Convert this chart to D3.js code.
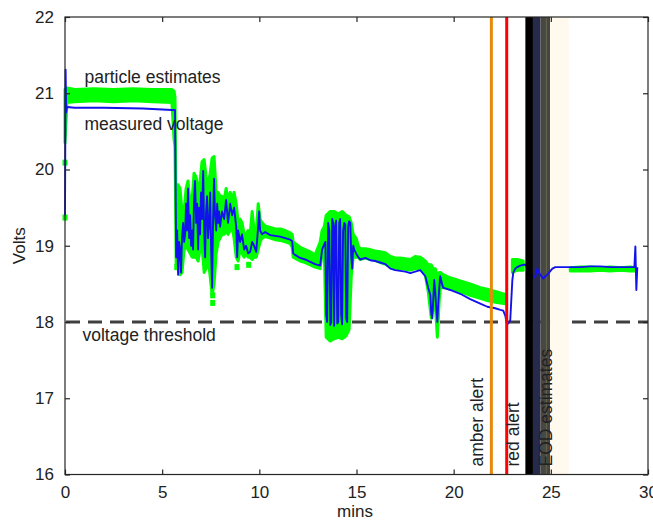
<!DOCTYPE html>
<html>
<head>
<meta charset="utf-8">
<script src="https://cdn.jsdelivr.net/npm/d3@7"></script>
<style>
  body { margin: 0; background: white; }
  text { font-family: "Liberation Sans", Arial, sans-serif; fill: #222; }
</style>
</head>
<body>
<div id="container"></div>
<script>
let w = 653;
let h = 521;

// axis ticks
let xTicks = [0, 5, 10, 15, 20, 25, 30];
let yTicks = [16, 17, 18, 19, 20, 21, 22];

// measured voltage [mins, volts]
let measured = [
  [0.00, 19.40], [0.03, 21.31], [0.06, 20.75], [0.10, 20.82], [0.50, 20.81], [2.00, 20.81],
  [4.00, 20.80], [5.51, 20.78], [5.66, 20.78], [5.72, 18.85], [5.77, 19.20], [5.82, 18.62],
  [5.87, 19.05], [5.92, 18.95], [5.97, 18.65], [6.02, 19.10], [6.08, 19.30], [6.13, 19.05],
  [6.18, 19.15], [6.23, 19.55], [6.28, 19.20], [6.33, 19.75], [6.39, 19.10], [6.44, 19.40],
  [6.49, 19.00], [6.54, 19.20], [6.59, 18.95], [6.64, 19.60], [6.69, 19.85], [6.75, 19.30],
  [6.80, 19.55], [6.85, 18.95], [6.90, 19.50], [6.95, 19.15], [7.00, 19.70], [7.05, 19.35],
  [7.11, 19.98], [7.16, 19.20], [7.21, 18.85], [7.26, 19.45], [7.31, 19.65], [7.36, 19.10],
  [7.42, 19.30], [7.47, 19.70], [7.52, 18.95], [7.57, 18.45], [7.62, 19.35], [7.67, 19.88],
  [7.72, 19.40], [7.78, 19.20], [7.83, 19.55], [7.88, 19.30], [7.93, 19.45], [7.98, 19.25],
  [8.08, 19.45], [8.19, 19.35], [8.29, 19.60], [8.39, 19.30], [8.50, 19.55], [8.60, 19.40],
  [8.70, 19.50], [8.81, 19.25], [8.86, 18.85], [8.91, 19.20], [9.01, 19.05], [9.11, 19.15],
  [9.22, 18.95], [9.32, 19.00], [9.42, 18.90], [9.53, 18.92], [9.63, 19.05], [9.73, 19.00],
  [9.84, 18.92], [9.94, 19.25], [9.99, 19.45], [10.04, 19.20], [10.14, 19.15], [10.30, 19.18],
  [10.56, 19.14], [10.81, 19.13], [11.07, 19.12], [11.33, 19.10], [11.59, 19.08], [11.69, 19.06],
  [11.74, 18.90], [11.84, 18.88], [12.10, 18.84], [12.36, 18.82], [12.62, 18.79], [12.87, 18.76],
  [13.13, 18.74], [13.23, 18.95], [13.34, 19.02], [13.40, 19.05], [13.44, 18.10], [13.49, 18.00],
  [13.54, 19.30], [13.60, 19.20], [13.65, 17.96], [13.70, 18.00], [13.75, 19.35], [13.80, 19.30],
  [13.85, 17.95], [13.90, 19.25], [13.95, 19.33], [14.01, 17.98], [14.06, 18.00], [14.11, 19.30],
  [14.16, 19.35], [14.21, 18.10], [14.26, 17.97], [14.31, 19.20], [14.37, 19.30], [14.42, 19.28],
  [14.47, 18.05], [14.52, 18.00], [14.57, 19.25], [14.62, 19.32], [14.68, 19.30], [14.73, 18.85],
  [14.78, 18.70], [14.83, 19.00], [14.88, 18.95], [14.98, 18.90], [15.09, 18.85], [15.19, 18.82],
  [15.45, 18.84], [15.71, 18.81], [15.96, 18.80], [16.22, 18.78], [16.48, 18.76], [16.74, 18.70],
  [16.99, 18.68], [17.25, 18.67], [17.51, 18.66], [17.77, 18.64], [18.02, 18.66], [18.28, 18.68],
  [18.54, 18.60], [18.69, 18.45], [18.80, 18.35], [18.85, 18.10], [18.90, 18.05], [18.95, 18.30],
  [19.00, 18.55], [19.05, 18.40], [19.10, 18.20], [19.16, 18.00], [19.21, 18.25], [19.26, 18.45],
  [19.31, 18.60], [19.40, 18.50], [19.46, 18.45], [19.57, 18.44], [19.82, 18.42], [20.34, 18.37],
  [20.85, 18.30], [21.37, 18.24], [21.73, 18.20], [22.14, 18.18], [22.40, 18.16], [22.55, 18.15],
  [22.66, 18.08], [22.71, 18.00], [22.81, 17.98], [22.91, 18.02], [23.02, 18.55], [23.07, 18.65],
  [23.17, 18.70], [23.27, 18.72], [23.43, 18.74], [23.58, 18.75], [23.69, 18.75], [24.10, 18.58],
  [24.20, 18.60], [24.30, 18.70], [24.45, 18.62], [24.61, 18.57], [24.72, 18.60], [24.82, 18.62],
  [25.08, 18.70], [25.23, 18.72], [25.49, 18.72], [26.00, 18.72], [26.52, 18.72], [27.03, 18.73],
  [27.55, 18.73], [28.06, 18.72], [28.58, 18.72], [29.09, 18.72], [29.30, 18.72], [29.35, 18.99],
  [29.40, 18.42], [29.45, 18.72]
];

// particle estimates spread [mins, low, high]; null breaks the band
let particles = [
  [0.00, 20.35, 21.05], [0.10, 20.88, 21.07], [0.50, 20.89, 21.05], [1.50, 20.90, 21.06],
  [2.50, 20.89, 21.05], [3.50, 20.90, 21.06], [4.50, 20.89, 21.05], [5.50, 20.88, 21.05],
  [5.61, 20.40, 21.03], [5.66, 20.30, 20.95], [5.72, 18.75, 19.40], [5.82, 18.70, 19.80],
  [5.92, 18.62, 19.75], [6.02, 18.65, 19.45], [6.13, 18.95, 19.45], [6.23, 19.00, 19.75],
  [6.33, 18.95, 19.85], [6.44, 18.90, 19.55], [6.54, 18.85, 19.60], [6.64, 18.85, 19.95],
  [6.75, 18.85, 19.90], [6.85, 18.80, 19.70], [6.95, 18.95, 19.85], [7.05, 19.00, 20.10],
  [7.16, 18.65, 20.13], [7.26, 18.70, 19.90], [7.36, 18.85, 19.80], [7.47, 18.60, 19.95],
  [7.57, 18.35, 20.15], [7.67, 18.50, 20.17], [7.78, 18.90, 19.70], [7.88, 19.05, 19.70],
  [7.98, 19.10, 19.65], [8.08, 19.15, 19.65], [8.19, 19.15, 19.60], [8.29, 19.20, 19.75],
  [8.39, 19.15, 19.60], [8.50, 19.20, 19.70], [8.60, 19.25, 19.60], [8.70, 19.10, 19.70],
  [8.81, 18.85, 19.55], [8.91, 18.80, 19.30], [9.01, 18.95, 19.35], [9.11, 18.90, 19.30],
  [9.22, 18.85, 19.15], [9.32, 18.90, 19.15], [9.42, 18.85, 19.20], [9.53, 18.85, 19.15],
  [9.63, 18.82, 19.45], [9.73, 18.85, 19.20], [9.84, 18.85, 19.15], [9.94, 18.95, 19.55],
  [10.04, 19.05, 19.35], [10.14, 19.10, 19.30], [10.30, 19.12, 19.26], [10.56, 19.10, 19.24],
  [10.81, 19.08, 19.22], [11.07, 19.07, 19.22], [11.33, 19.05, 19.20], [11.59, 19.03, 19.17],
  [11.69, 18.98, 19.15], [11.74, 18.85, 19.05], [12.10, 18.80, 18.98], [12.36, 18.78, 18.95],
  [12.62, 18.75, 18.92], [12.87, 18.72, 18.88], [13.13, 18.70, 19.05], [13.23, 18.90, 19.20],
  [13.34, 18.95, 19.25], [13.44, 17.80, 19.40], [13.65, 17.75, 19.45], [13.85, 17.78, 19.45],
  [14.06, 17.80, 19.42], [14.26, 17.78, 19.45], [14.47, 17.82, 19.40], [14.62, 17.90, 19.38],
  [14.73, 18.60, 19.30], [14.83, 18.85, 19.15], [14.98, 18.85, 19.10], [15.09, 18.85, 19.00],
  [15.19, 18.82, 18.96], [15.45, 18.84, 18.96], [15.71, 18.82, 18.95], [15.96, 18.81, 18.93],
  [16.22, 18.78, 18.92], [16.48, 18.76, 18.91], [16.74, 18.72, 18.86], [16.99, 18.70, 18.84],
  [17.25, 18.70, 18.84], [17.51, 18.69, 18.83], [17.77, 18.68, 18.82], [18.02, 18.70, 18.86],
  [18.28, 18.70, 18.85], [18.54, 18.62, 18.80], [18.69, 18.40, 18.75], [18.85, 18.05, 18.75],
  [18.95, 18.20, 18.70], [19.05, 18.25, 18.70], [19.16, 17.80, 18.60], [19.26, 18.30, 18.65],
  [19.31, 18.45, 18.65], [19.46, 18.45, 18.62], [19.82, 18.44, 18.58], [20.34, 18.40, 18.54],
  [20.85, 18.35, 18.50], [21.37, 18.31, 18.45], [21.73, 18.28, 18.43], [22.14, 18.26, 18.40],
  [22.40, 18.25, 18.38], [22.66, 18.24, 18.36], [22.91, null, null], [23.02, 18.65, 18.82],
  [23.27, 18.68, 18.82], [23.58, 18.68, 18.80], [23.69, null, null], [26.00, 18.67, 18.71],
  [26.52, 18.67, 18.72], [27.03, 18.67, 18.72], [27.55, 18.68, 18.71], [28.06, 18.67, 18.72],
  [28.58, 18.68, 18.71], [29.09, 18.67, 18.72], [29.35, 18.67, 18.71]
];

// stray particles
let strayParticles = [
  [0.00, 19.37], [0.00, 20.09], [5.75, 18.72], [7.60, 18.35], [7.60, 18.25], [8.85, 18.72], [9.45, 18.75]
];

let threshold = 18;
let amberAlert = 21.94;
let redAlert = 22.73;

// EOD estimate bands [from, to, colour]
let eodBands = [
  [24.08, 24.46, "#262a4c"],
  [24.46, 24.75, "#474744"],
  [24.75, 24.80, "#5c5c40"],
  [24.80, 24.96, "#454545"],
  [24.96, 25.92, "#fff9ee"]
];
let eodCore = [23.69, 24.08];

let labels = [
  { text: "particle estimates", t: 1.0, v: 21.13 },
  { text: "measured voltage", t: 1.0, v: 20.52 },
  { text: "voltage threshold", t: 0.9, v: 17.75 }
];
let vLabels = [
  { text: "amber alert", t: 21.52 },
  { text: "red alert", t: 23.35 },
  { text: "EOD estimates", t: 25.05 }
];

let svg = d3.select("#container")
  .append("svg")
  .attr("width", w)
  .attr("height", h)
  .style("background-color", "white");

let xScale = d3.scaleLinear().domain([0, 30]).range([65, 648]);
let yScale = d3.scaleLinear().domain([16, 22]).range([474.5, 17]);

// threshold
svg.append("line")
  .attr("x1", xScale(0) + 1).attr("x2", xScale(30))
  .attr("y1", yScale(threshold)).attr("y2", yScale(threshold))
  .attr("stroke", "#404040")
  .attr("stroke-width", 3)
  .attr("stroke-dasharray", "14,8");

// EOD bands (lighter ones under the data)
svg.selectAll(".eod").data(eodBands).enter()
  .append("rect")
  .attr("class", "eod")
  .attr("x", d => xScale(d[0]))
  .attr("width", d => xScale(d[1]) - xScale(d[0]))
  .attr("y", yScale(22))
  .attr("height", yScale(16) - yScale(22))
  .attr("fill", d => d[2]);

// particle estimates
let area = d3.area()
  .defined(d => d[1] != null)
  .x(d => xScale(d[0]))
  .y0(d => yScale(d[1]))
  .y1(d => yScale(d[2]));

svg.append("path")
  .attr("d", area(particles))
  .attr("fill", "#00ff00")
  .attr("stroke", "#00ff00")
  .attr("stroke-width", 3)
  .attr("stroke-linejoin", "round");

svg.selectAll(".stray").data(strayParticles).enter()
  .append("rect")
  .attr("class", "stray")
  .attr("x", d => xScale(d[0]) - 2.5)
  .attr("y", d => yScale(d[1]) - 3)
  .attr("width", 5)
  .attr("height", 6)
  .attr("fill", "#00ff00");

// measured voltage
let line = d3.line()
  .x(d => xScale(d[0]))
  .y(d => yScale(d[1]));

svg.append("path")
  .attr("d", line(measured))
  .attr("fill", "none")
  .attr("stroke", "#1212ee")
  .attr("stroke-width", 1.9)
  .attr("stroke-linejoin", "round");

// darkest EOD band on top
svg.append("rect")
  .attr("x", xScale(eodCore[0]))
  .attr("width", xScale(eodCore[1]) - xScale(eodCore[0]))
  .attr("y", yScale(22))
  .attr("height", yScale(16) - yScale(22))
  .attr("fill", "#000");

// alerts
svg.append("line")
  .attr("x1", xScale(amberAlert)).attr("x2", xScale(amberAlert))
  .attr("y1", yScale(22)).attr("y2", yScale(16))
  .attr("stroke", "#e8890c").attr("stroke-width", 3);
svg.append("line")
  .attr("x1", xScale(redAlert)).attr("x2", xScale(redAlert))
  .attr("y1", yScale(22)).attr("y2", yScale(16))
  .attr("stroke", "#ff0000").attr("stroke-width", 3);

// axes box
let axisColor = "#262626";
svg.append("rect")
  .attr("x", xScale(0)).attr("y", yScale(22))
  .attr("width", xScale(30) - xScale(0))
  .attr("height", yScale(16) - yScale(22))
  .attr("fill", "none")
  .attr("stroke", axisColor)
  .attr("stroke-width", 1.2);

let fmt = d3.format("d");
let xAxisBottom = d3.axisBottom(xScale).tickValues(xTicks).tickFormat(fmt).tickSizeInner(-5).tickSizeOuter(0).tickPadding(11);
let xAxisTop = d3.axisTop(xScale).tickValues(xTicks).tickSizeInner(-5).tickSizeOuter(0).tickFormat("");
let yAxisLeft = d3.axisLeft(yScale).tickValues(yTicks).tickFormat(fmt).tickSizeInner(-5).tickSizeOuter(0).tickPadding(11);
let yAxisRight = d3.axisRight(yScale).tickValues(yTicks).tickSizeInner(-5).tickSizeOuter(0).tickFormat("");

function styleAxis(g) {
  g.select(".domain").remove();
  g.selectAll("line").attr("stroke", axisColor).attr("stroke-width", 1.2);
  g.selectAll("text")
    .attr("font-family", "Liberation Sans, Arial, sans-serif")
    .attr("font-size", "17px")
    .attr("fill", "#222");
}

svg.append("g").attr("transform", "translate(0," + yScale(16) + ")").call(xAxisBottom).call(styleAxis);
svg.append("g").attr("transform", "translate(0," + yScale(22) + ")").call(xAxisTop).call(styleAxis);
svg.append("g").attr("transform", "translate(" + xScale(0) + ",0)").call(yAxisLeft).call(styleAxis);
svg.append("g").attr("transform", "translate(" + xScale(30) + ",0)").call(yAxisRight).call(styleAxis);

// axis titles
svg.append("text")
  .attr("x", 355).attr("y", 517)
  .attr("text-anchor", "middle")
  .attr("font-size", "17px")
  .text("mins");

svg.append("text")
  .attr("transform", "translate(25," + yScale(19) + ") rotate(-90)")
  .attr("text-anchor", "middle")
  .attr("font-size", "17px")
  .text("Volts");

// annotations
svg.selectAll(".label").data(labels).enter()
  .append("text")
  .attr("class", "label")
  .attr("x", d => xScale(d.t))
  .attr("y", d => yScale(d.v))
  .attr("font-size", "17.5px")
  .text(d => d.text);

svg.selectAll(".vlabel").data(vLabels).enter()
  .append("text")
  .attr("class", "vlabel")
  .attr("transform", d => "translate(" + xScale(d.t) + "," + (yScale(16) - 8) + ") rotate(-90)")
  .attr("font-size", "17.5px")
  .text(d => d.text);
</script>
</body>
</html>
